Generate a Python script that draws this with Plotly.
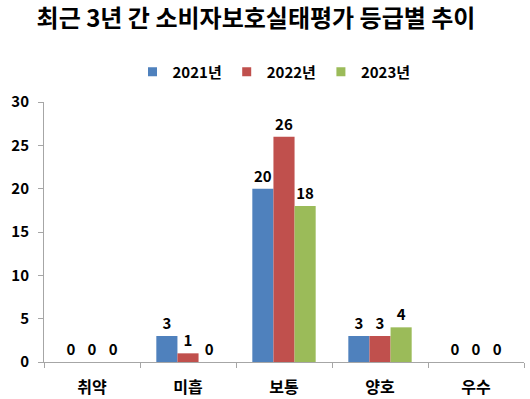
import plotly.graph_objects as go

categories = ["취약", "미흡", "보통", "양호", "우수"]
series_names = ["2021년", "2022년", "2023년"]
v2021 = [0, 3, 20, 3, 0]
v2022 = [0, 1, 26, 3, 0]
v2023 = [0, 0, 18, 4, 0]
colors = ["#4F81BD", "#C0504D", "#9BBB59"]
y_ticks = [0, 5, 10, 15, 20, 25, 30]

FONT = "Noto Sans CJK KR"
W, H = 530, 399

fig = go.Figure()
for name, vals, col in zip(series_names, [v2021, v2022, v2023], colors):
    fig.add_trace(go.Bar(
        x=categories, y=vals, name=name, showlegend=False,
        marker=dict(color=col, line=dict(width=0)),
        text=[str(v) for v in vals], textposition="outside",
        textfont=dict(family=FONT, size=15, color="#000000", weight="bold"),
        cliponaxis=False,
    ))
# legend entries with small square swatches
for name, col in zip(series_names, colors):
    fig.add_trace(go.Scatter(
        x=[None], y=[None], mode="markers", name=name,
        marker=dict(symbol="square", size=9, color=col),
    ))

fig.update_layout(
    width=W, height=H,
    margin=dict(l=44, r=6, t=102, b=37, autoexpand=False),
    paper_bgcolor="white", plot_bgcolor="white",
    barmode="group", bargap=0.34, bargroupgap=0,
    title=dict(text="<b>최근 3년 간 소비자보호실태평가 등급별 추이</b>",
               x=256 / W, xanchor="center", xref="container",
               y=1 - 19 / H, yanchor="middle", yref="container",
               font=dict(family=FONT, size=24, color="#000000")),
    legend=dict(orientation="h", x=274 / W, xanchor="center", xref="container",
                y=1 - 72 / H, yanchor="middle", yref="container",
                font=dict(family=FONT, size=15, color="#000000", weight="bold"),
                itemwidth=30, traceorder="normal", itemclick=False),
    font=dict(family=FONT, color="#000000"),
)
fig.update_xaxes(
    automargin=False,
    showline=True, linecolor="#A6A6A6", linewidth=1,
    ticks="outside", tickson="boundaries", ticklen=5, tickcolor="#A6A6A6",
    tickfont=dict(family=FONT, size=16, color="#000000", weight="bold"),
    ticklabelstandoff=11,
    showgrid=False,
)
fig.update_yaxes(
    automargin=False,
    range=[0, 30], tickvals=y_ticks,
    showline=True, linecolor="#A6A6A6", linewidth=1,
    ticks="outside", ticklen=5, tickcolor="#A6A6A6",
    tickfont=dict(family=FONT, size=15, color="#000000", weight="bold"),
    ticklabelstandoff=6,
    showgrid=False, zeroline=False,
)

# remove the browser's default 8px page margin so the figure fills the window
fig.write_html(
    "out.html",
    config={"displayModeBar": False},
    post_script="document.body.style.margin='0';document.body.style.overflow='hidden';",
)
